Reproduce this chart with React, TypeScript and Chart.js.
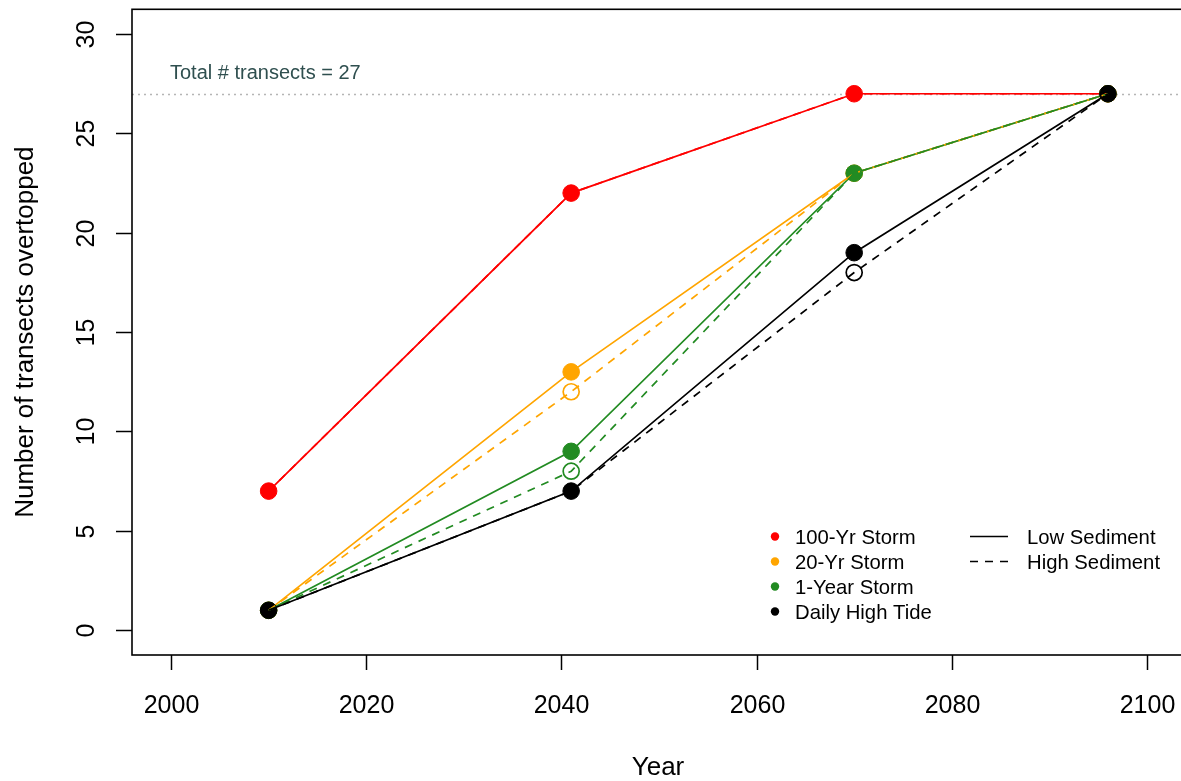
import React, { useEffect, useRef } from "react";
import { Chart, registerables } from "chart.js";

Chart.register(...registerables);

// ---- data ----
const years = [2010, 2041, 2070, 2096];
const storm100Low = [7, 22, 27, 27];
const storm100High = [7, 22, 27, 27];
const storm20Low = [1, 13, 23, 27];
const storm20High = [1, 12, 23, 27];
const storm1Low = [1, 9, 23, 27];
const storm1High = [1, 8, 23, 27];
const dailyLow = [1, 7, 19, 27];
const dailyHigh = [1, 7, 18, 27];
const totalTransects = 27;
const xTicks = [2000, 2020, 2040, 2060, 2080, 2100];
const yTicks = [0, 5, 10, 15, 20, 25, 30];
const seriesNames = ["100-Yr Storm", "20-Yr Storm", "1-Year Storm", "Daily High Tide"];
const seriesColors = ["#FF0000", "#FFA500", "#228B22", "#000000"];
const sedimentNames = ["Low Sediment", "High Sediment"];

const FONT = '"Liberation Sans", Arial, sans-serif';

const toPts = (vals: number[]) => vals.map((v, i) => ({ x: years[i], y: v }));

const lowSets = [storm100Low, storm20Low, storm1Low, dailyLow];
const highSets = [storm100High, storm20High, storm1High, dailyHigh];

const overlay = {
  id: "overlay",
  beforeDatasetsDraw(chart: any) {
    const { ctx, chartArea: a, scales } = chart;
    const yy = Math.round(scales.y.getPixelForValue(totalTransects)) + 0.5;
    ctx.save();
    ctx.strokeStyle = "#b5b5b5";
    ctx.lineWidth = 1.3;
    ctx.setLineDash([2, 4]);
    ctx.beginPath();
    ctx.moveTo(a.left, yy);
    ctx.lineTo(a.right, yy);
    ctx.stroke();
    ctx.restore();
  },
  afterDraw(chart: any) {
    const { ctx, chartArea: a, scales } = chart;
    const xs = scales.x;
    const ys = scales.y;
    ctx.save();
    // box
    ctx.strokeStyle = "#000";
    ctx.lineWidth = 1.6;
    ctx.setLineDash([]);
    ctx.strokeRect(a.left, a.top, a.right - a.left, a.bottom - a.top);

    // x ticks
    ctx.fillStyle = "#000";
    ctx.font = `25px ${FONT}`;
    ctx.textAlign = "center";
    ctx.textBaseline = "alphabetic";
    ctx.lineWidth = 1.5;
    xTicks.forEach((t) => {
      const px = Math.round(xs.getPixelForValue(t)) + 0.5;
      ctx.beginPath();
      ctx.moveTo(px, a.bottom);
      ctx.lineTo(px, a.bottom + 15);
      ctx.stroke();
      ctx.fillText(String(t), px, 713);
    });
    // y ticks
    yTicks.forEach((t) => {
      const py = Math.round(ys.getPixelForValue(t)) + 0.5;
      ctx.beginPath();
      ctx.moveTo(a.left, py);
      ctx.lineTo(a.left - 16, py);
      ctx.stroke();
      ctx.save();
      ctx.translate(94, py);
      ctx.rotate(-Math.PI / 2);
      ctx.fillText(String(t), 0, 0);
      ctx.restore();
    });
    // axis titles
    ctx.font = `26px ${FONT}`;
    ctx.fillText("Year", (a.left + a.right) / 2 - 1, 775);
    ctx.save();
    ctx.translate(33, (a.top + a.bottom) / 2);
    ctx.rotate(-Math.PI / 2);
    ctx.fillText("Number of transects overtopped", 0, 0);
    ctx.restore();

    // annotation
    ctx.font = `20px ${FONT}`;
    ctx.textAlign = "left";
    ctx.fillStyle = "#2F4F4F";
    ctx.fillText(`Total # transects = ${totalTransects}`, 170, 79);

    // legend
    ctx.font = `20.3px ${FONT}`;
    ctx.fillStyle = "#000";
    const rowY = [538, 563, 588, 613];
    seriesNames.forEach((n, i) => {
      ctx.fillStyle = seriesColors[i];
      ctx.beginPath();
      ctx.arc(775, rowY[i] - 1.5, 4.2, 0, Math.PI * 2);
      ctx.fill();
      ctx.fillStyle = "#000";
      ctx.textBaseline = "middle";
      ctx.fillText(n, 795, rowY[i]);
    });
    sedimentNames.forEach((n, i) => {
      ctx.strokeStyle = "#000";
      ctx.lineWidth = 1.6;
      ctx.setLineDash(i === 0 ? [] : [8, 7]);
      ctx.beginPath();
      ctx.moveTo(970, rowY[i] - 1.5);
      ctx.lineTo(1008, rowY[i] - 1.5);
      ctx.stroke();
      ctx.setLineDash([]);
      ctx.fillText(n, 1027, rowY[i]);
    });
    ctx.restore();
  },
};

export default function App() {
  const ref = useRef<HTMLCanvasElement | null>(null);
  useEffect(() => {
    if (!ref.current) return;
    const datasets: any[] = [];
    let order = 100;
    lowSets.forEach((vals, i) => {
      datasets.push({
        label: seriesNames[i] + " Low",
        data: toPts(vals),
        borderColor: seriesColors[i],
        backgroundColor: seriesColors[i],
        borderWidth: 1.7,
        pointRadius: 8.3,
        pointBorderWidth: 1,
        pointBorderColor: seriesColors[i],
        pointBackgroundColor: seriesColors[i],
        order: order--,
      });
    });
    highSets.forEach((vals, i) => {
      const low = lowSets[i];
      datasets.push({
        label: seriesNames[i] + " High",
        data: toPts(vals),
        borderColor: seriesColors[i],
        backgroundColor: "rgba(0,0,0,0)",
        borderWidth: 1.7,
        borderDash: [8, 7],
        pointRadius: vals.map((v, j) => (v === low[j] ? 0 : 8)),
        pointBorderWidth: 1.7,
        pointBorderColor: seriesColors[i],
        pointBackgroundColor: "rgba(0,0,0,0)",
        order: order--,
      });
    });
    const chart = new Chart(ref.current, {
      type: "line",
      data: { datasets },
      options: {
        animation: false,
        responsive: false,
        devicePixelRatio: 1,
        layout: { padding: { left: 0, top: 7, right: 14, bottom: 0 } },
        plugins: { legend: { display: false }, tooltip: { enabled: false } },
        scales: {
          x: {
            type: "linear",
            min: 1996,
            max: 2104,
            grid: { display: false },
            border: { display: false },
            ticks: { display: false },
            afterBuildTicks: (s: any) => {
              s.ticks = xTicks.map((v) => ({ value: v }));
            },
            afterFit: (s: any) => {
              s.height = 126;
            },
          },
          y: {
            type: "linear",
            min: -1.25,
            max: 31.25,
            grid: { display: false },
            border: { display: false },
            ticks: { display: false },
            afterBuildTicks: (s: any) => {
              s.ticks = yTicks.map((v) => ({ value: v }));
            },
            afterFit: (s: any) => {
              s.width = 132;
            },
          },
        },
      },
      plugins: [overlay],
    });
    return () => chart.destroy();
  }, []);
  return (
    <div
      style={{
        position: "fixed",
        left: 0,
        top: 0,
        width: 1181,
        height: 781,
        overflow: "hidden",
        background: "#fff",
      }}
    >
      <canvas ref={ref} width={1200} height={781} style={{ display: "block" }} />
    </div>
  );
}
